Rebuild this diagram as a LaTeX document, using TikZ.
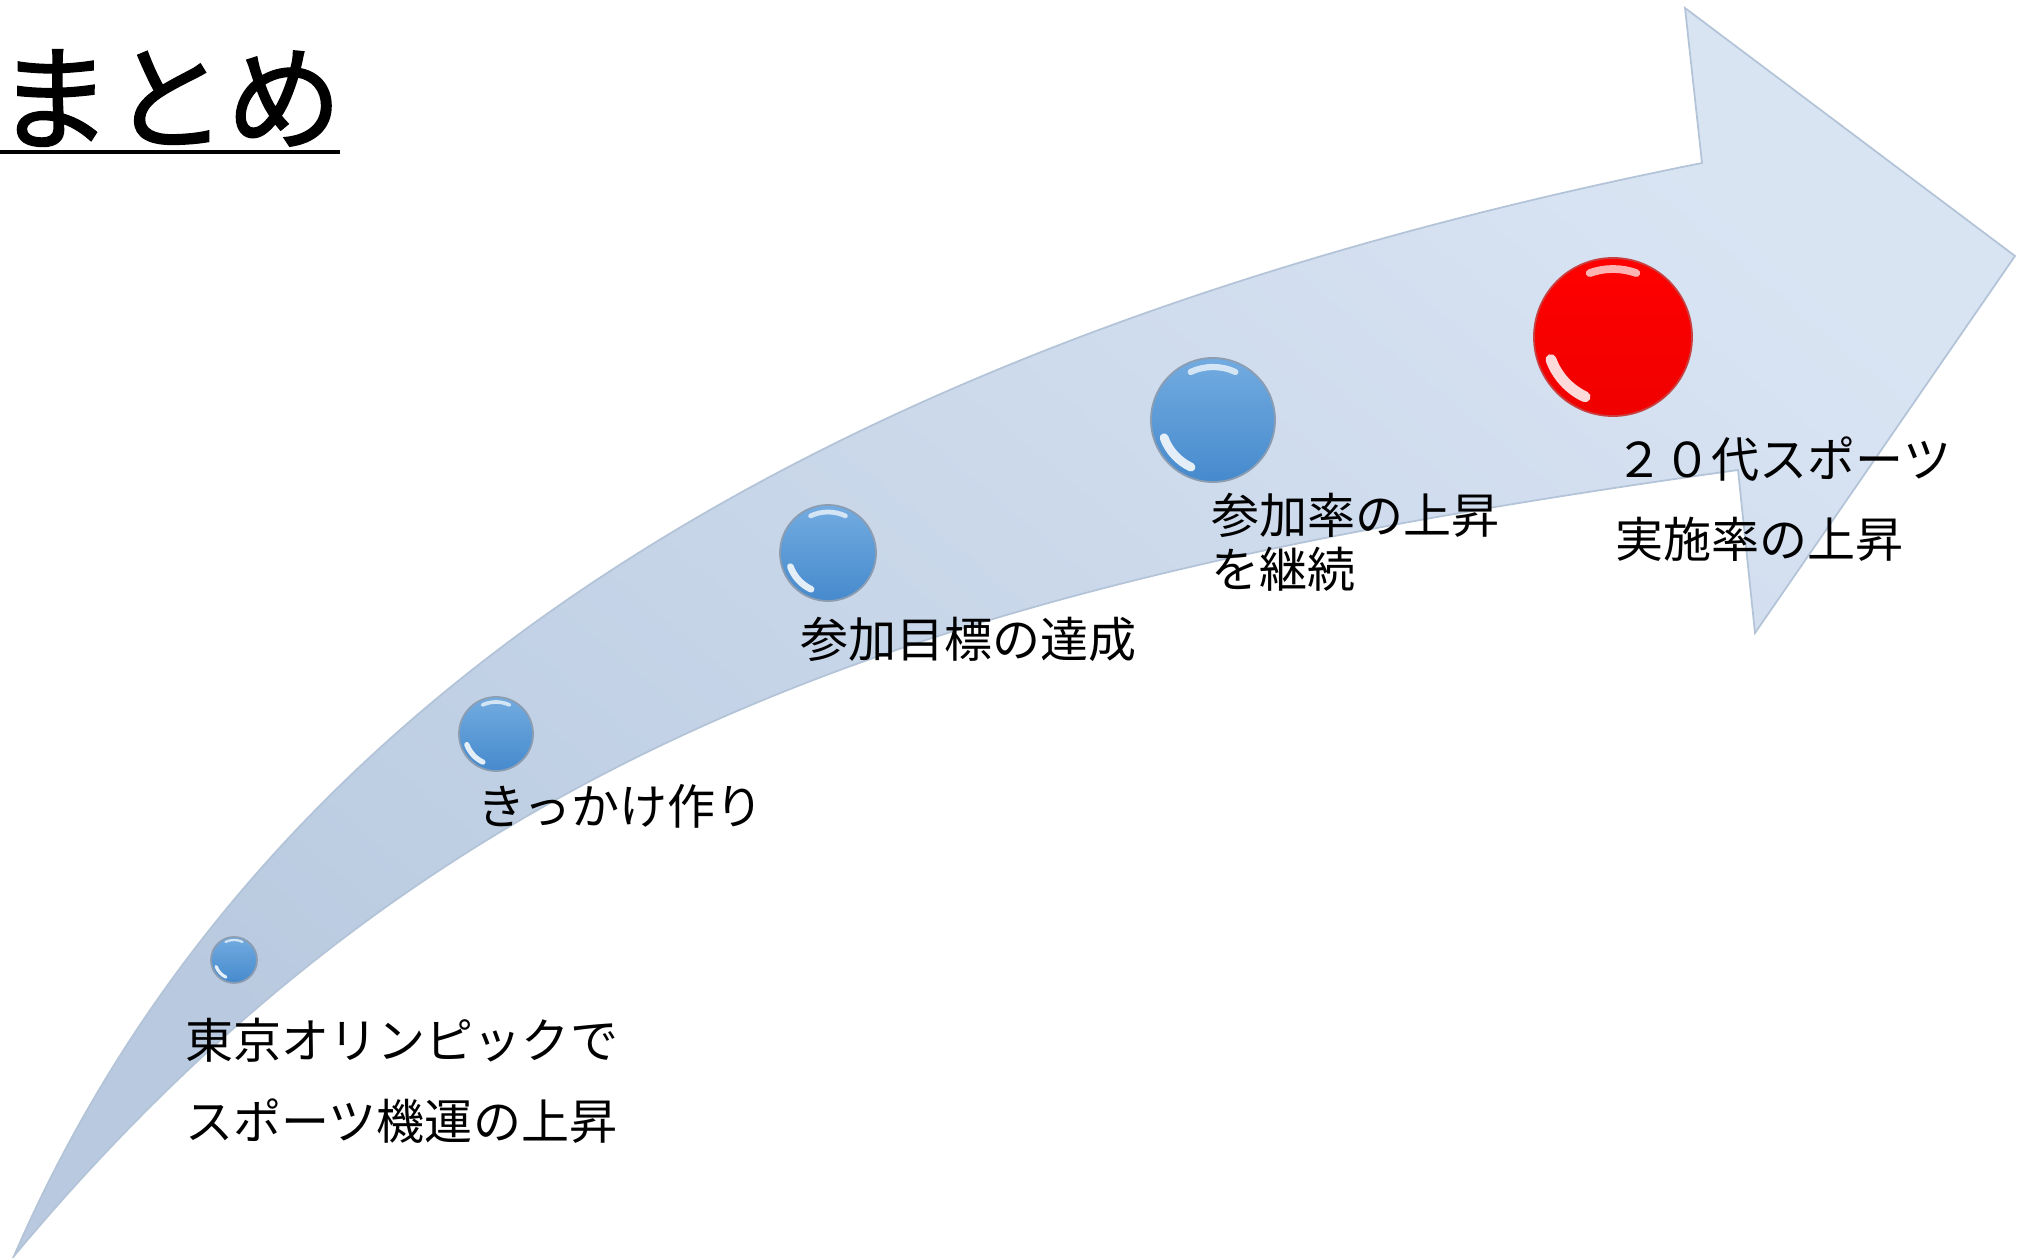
\documentclass[tikz,border=0pt]{standalone}
\usepackage{fontspec}
\newfontfamily\jp{Noto Sans CJK JP}
\newfontfamily\jptitle[FakeBold=1.6]{Noto Sans CJK JP}
\definecolor{arrowtop}{HTML}{D9E4F3}
\definecolor{arrowbot}{HTML}{B9CAE0}
\definecolor{arrowrim}{HTML}{B4C4D8}
\definecolor{beadtop}{HTML}{72ABE0}
\definecolor{beadbot}{HTML}{468ACD}
\definecolor{beadrim}{HTML}{8C9DB2}
\definecolor{redrim}{HTML}{C84040}

\begin{document}
\begin{tikzpicture}[x=0.01cm, y=0.01cm,
  stage/.style={font=\jp\fontsize{13.66pt}{22.8pt}\selectfont, anchor=base west, inner sep=0pt, align=left},
  bead/.style={circle, inner sep=0pt, draw=beadrim, line width=0.5pt, top color=beadtop, bottom color=beadbot},
  shine/.style={white, line cap=round, opacity=0.85}]
  \useasboundingbox[fill=white] (0,0) rectangle (2020,-1258);

  % curved arrow
  \filldraw[draw=arrowrim, line width=0.5pt, top color=arrowtop, bottom color=arrowbot, shading angle=-40]
    (14,-1256) .. controls (255,-700) and (815,-340) .. (1702,-163)
    -- (1685,-8) -- (2015,-256) -- (1755,-633) -- (1738,-470)
    .. controls (988,-575) and (464,-716) .. (14,-1256) -- cycle;

  % title
  \node[anchor=base west, inner sep=0pt, font=\jptitle\fontsize{32.7pt}{34pt}\selectfont] (title) at (-4,-141) {まとめ};
  \draw[line width=1.4pt] (0,-152) -- (340,-152);

  % beads
  \node[bead, minimum size=0.46cm] (b1) at (234,-960) {};
  \draw[shine, opacity=0.7, line width=0.65pt] ([shift={(65:20)}]b1.center) arc[start angle=65, end angle=115, radius=20];
  \draw[shine, line width=0.9pt] ([shift={(200:19)}]b1.center) arc[start angle=200, end angle=245, radius=19];

  \node[bead, minimum size=0.74cm] (b2) at (496,-734) {};
  \draw[shine, opacity=0.7, line width=1.05pt] ([shift={(65:32)}]b2.center) arc[start angle=65, end angle=115, radius=32];
  \draw[shine, line width=1.5pt] ([shift={(200:31)}]b2.center) arc[start angle=200, end angle=245, radius=31];

  \node[bead, minimum size=0.96cm] (b3) at (828,-553) {};
  \draw[shine, opacity=0.7, line width=1.37pt] ([shift={(65:41)}]b3.center) arc[start angle=65, end angle=115, radius=41];
  \draw[shine, line width=1.9pt] ([shift={(200:40)}]b3.center) arc[start angle=200, end angle=245, radius=40];

  \node[bead, minimum size=1.24cm] (b4) at (1213,-420) {};
  \draw[shine, opacity=0.7, line width=1.75pt] ([shift={(65:53)}]b4.center) arc[start angle=65, end angle=115, radius=53];
  \draw[shine, line width=2.5pt] ([shift={(200:52)}]b4.center) arc[start angle=200, end angle=245, radius=52];

  \node[bead, minimum size=1.58cm, draw=redrim, top color=red, bottom color=red!94!black] (peak) at (1613,-337) {};
  \draw[shine, opacity=0.7, line width=2.2pt] ([shift={(70:68)}]peak.center) arc[start angle=70, end angle=110, radius=68];
  \draw[shine, line width=3.1pt] ([shift={(200:66)}]peak.center) arc[start angle=200, end angle=245, radius=66];

  % labels (base = last line)
  \node[stage] (olympic) at (185,-1139) {東京オリンピックで\\スポーツ機運の上昇};
  \node[stage] (trigger) at (477,-825) {きっかけ作り};
  \node[stage] (target) at (800,-658) {参加目標の達成};
  \node[stage, font=\jp\fontsize{13.66pt}{15.6pt}\selectfont] (keep) at (1211,-588) {参加率の上昇\\を継続};
  \node[stage] (twenties) at (1615,-558) {２０代スポーツ\\実施率の上昇};
\end{tikzpicture}
\end{document}
